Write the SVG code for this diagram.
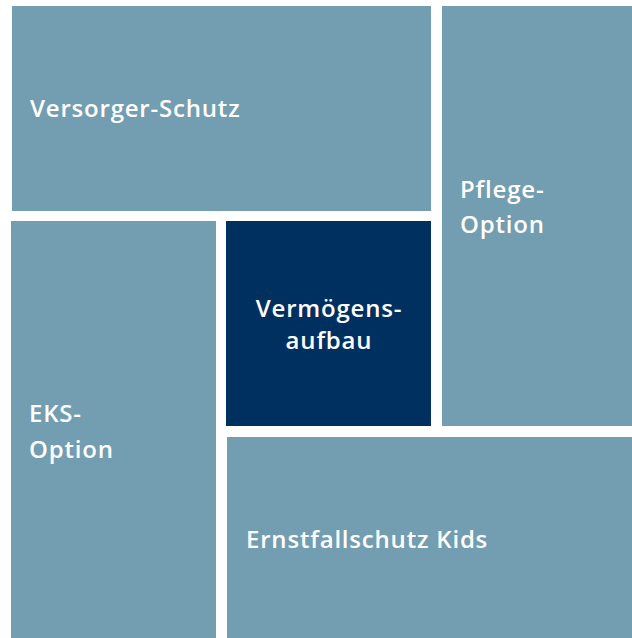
<svg xmlns="http://www.w3.org/2000/svg" width="632" height="638" viewBox="0 0 632 638">
<style>
.l{fill:#739db0}
.d{fill:#00305f}
text{font-family:"Open Sans","Liberation Sans",sans-serif;font-weight:600;font-size:24px;letter-spacing:0.8px;fill:#ffffff}
</style>
<rect width="632" height="638" fill="#ffffff"/>
<g id="versorger"><rect class="l" x="12" y="6" width="419" height="205"/><text x="30" y="117">Versorger-Schutz</text></g>
<g id="pflege"><rect class="l" x="442" y="6" width="190" height="420"/><text x="460" y="198">Pflege-</text><text x="460" y="233">Option</text></g>
<g id="eks"><rect class="l" x="11" y="221" width="205" height="417"/><text x="29" y="422">EKS-</text><text x="29" y="458">Option</text></g>
<g id="vermoegen"><rect class="d" x="226" y="221" width="205" height="205"/><text x="329" y="317" text-anchor="middle">Vermögens-</text><text x="329" y="349" text-anchor="middle">aufbau</text></g>
<g id="ernstfall"><rect class="l" x="227" y="437" width="405" height="201"/><text x="246" y="548">Ernstfallschutz Kids</text></g>
<g id="connectors"/>
</svg>
